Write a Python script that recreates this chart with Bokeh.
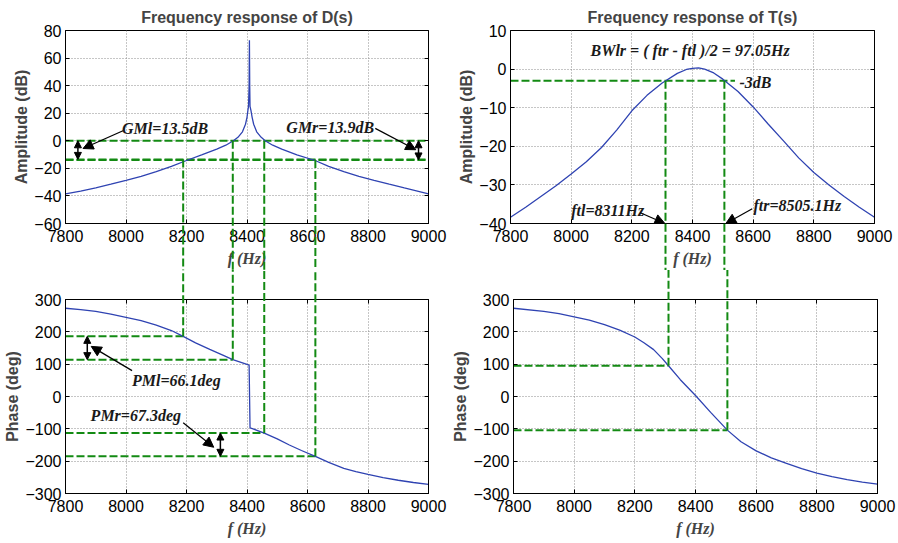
from bokeh.plotting import figure
from bokeh.layouts import column, row
from bokeh.models import Arrow, NormalHead, LinearAxis, FixedTicker, Range1d
from bokeh.core.properties import value
from bokeh.embed import file_html
from bokeh.resources import INLINE

# ---------------- data ----------------
freq_d_amp = [7800, 7850, 7900, 7950, 8000, 8050, 8100, 8150, 8200, 8250, 8300, 8330,
              8355, 8370, 8385, 8395, 8400, 8403, 8405, 8407, 8408, 8409, 8410, 8413,
              8417, 8422, 8432, 8447, 8460, 8485, 8515, 8565, 8625, 8670, 8720, 8770,
              8820, 8870, 8920, 8960, 9000]
d_amp = [-38.5, -36.5, -34.2, -31.5, -28.7, -25.8, -22.3, -18.5, -14.3, -10.2, -6.0, -3.2,
         0.0, 2.5, 6.5, 12.0, 17.0, 22.0, 25.0, 40.0, 73.0, 40.0, 25.0, 22.0,
         17.0, 12.0, 6.5, 2.5, 0.0, -3.2, -6.0, -10.2, -14.3, -18.5, -22.3, -25.8,
         -28.7, -31.5, -34.2, -36.3, -38.5]

freq_d_ph = [7800, 7850, 7900, 7950, 8000, 8050, 8100, 8150, 8189, 8230, 8277, 8320,
             8353, 8395, 8407, 8410, 8420, 8457, 8500, 8540, 8580, 8626, 8670, 8720,
             8760, 8800, 8850, 8900, 8950, 9000]
d_ph = [273, 269, 263, 255, 245, 235, 221, 204, 186, 166, 146, 128,
        114, 101, 97, -97, -100, -113, -131, -150, -167, -185, -204, -222,
        -232, -241, -251, -259, -266, -272]

freq_t_amp = [7800, 7850, 7900, 7950, 8000, 8050, 8100, 8150, 8200, 8250, 8300, 8350,
              8380, 8400, 8420, 8440, 8470, 8500, 8550, 8600, 8650, 8700, 8750, 8800,
              8850, 8900, 8950, 9000]
t_amp = [-38.4, -35.8, -33.0, -30.2, -27.2, -24.0, -20.3, -15.8, -10.8, -6.8, -3.6, -1.1,
         -0.1, 0.2, 0.3, 0.0, -1.0, -2.6, -5.8, -9.8, -14.3, -18.6, -23.0, -26.8,
         -30.0, -33.0, -35.8, -38.4]

freq_t_ph = [7800, 7900, 7950, 8000, 8050, 8100, 8150, 8200, 8230, 8262, 8290, 8311,
             8350, 8400, 8450, 8505, 8550, 8600, 8650, 8700, 8750, 8800, 8850, 8900,
             8950, 9000]
t_ph = [273, 263, 256, 246, 236, 222, 205, 184, 166, 145, 118, 95,
        52, 3, -49, -104, -140, -168, -190, -207, -223, -237, -248, -257,
        -265, -271]

x_ticks = [7800, 8000, 8200, 8400, 8600, 8800, 9000]
d_amp_ticks = [-60, -40, -20, 0, 20, 40, 60, 80]
t_amp_ticks = [-40, -30, -20, -10, 0, 10]
phase_ticks = [-300, -200, -100, 0, 100, 200, 300]

# margin markers (crossing frequencies and their values)
d_cross_freq = [8189, 8353, 8457, 8626]
d_cross_amp = [-13.5, 0.0, 0.0, -13.9]
d_cross_phase = [186, 114, -113, -185]
d_gain_levels = [0.0, -13.5, -13.9]
t_cross_freq = [8311, 8505.1]
t_cross_amp = [-3.0, -3.0]
t_cross_phase = [95, -104]
t_bw_level = -3.0
t_bw_end = 8540

# ---------------- styling ----------------
GREEN = "#138a13"
BLUE = "#2f43b2"
SANS = "Liberation Sans"
SERIF = "Liberation Serif"
DASH = "8 3"


def make_fig(ticks_y, yr, ylabel, title, bl, br, bt, bb, fw, fh):
    p = figure(output_backend="svg", toolbar_location=None,
               x_range=Range1d(7800, 9000), y_range=Range1d(*yr),
               frame_width=fw, frame_height=fh,
               min_border_left=bl, min_border_right=br,
               min_border_top=bt, min_border_bottom=bb,
               background_fill_color="white", border_fill_color="white")
    p.outline_line_color = "black"
    p.outline_line_width = 1
    for ax, tk in ((p.xaxis[0], x_ticks), (p.yaxis[0], ticks_y)):
        ax.ticker = FixedTicker(ticks=tk)
        ax.major_tick_in = 4
        ax.major_tick_out = 0
        ax.minor_tick_line_color = None
        ax.axis_line_color = "black"
        ax.major_tick_line_color = "black"
        ax.major_label_text_font = SANS
        ax.major_label_text_font_size = "16px"
        ax.major_label_text_color = "black"
    p.xaxis.major_label_standoff = 6
    p.yaxis.major_label_standoff = 4
    p.xaxis.axis_label = "f (Hz)"
    p.xaxis.axis_label_text_font = SERIF
    p.xaxis.axis_label_text_font_style = "bold italic"
    p.xaxis.axis_label_text_font_size = "16px"
    p.xaxis.axis_label_standoff = 5
    p.yaxis.axis_label = ylabel
    p.yaxis.axis_label_text_font = SANS
    p.yaxis.axis_label_text_font_style = "bold"
    p.yaxis.axis_label_text_font_size = "16px"
    p.yaxis.axis_label_standoff = 1
    # box ticks on the right (and on top where there is no title)
    sides = [("right", ticks_y)] + ([] if title else [("above", x_ticks)])
    for side, tk in sides:
        a = LinearAxis(ticker=FixedTicker(ticks=tk), major_tick_in=4, major_tick_out=0,
                       minor_tick_line_color=None,
                       major_label_overrides={t: "" for t in tk},
                       major_label_standoff=0, axis_line_color="black")
        p.add_layout(a, side)
    p.grid.grid_line_color = "#8c8c8c"
    p.grid.grid_line_dash = "1 2"
    p.grid.grid_line_width = 1
    p.xgrid.ticker = FixedTicker(ticks=x_ticks)
    p.ygrid.ticker = FixedTicker(ticks=ticks_y)
    if title:
        p.title.text = title
        p.title.align = "center"
        p.title.text_font = SANS
        p.title.text_font_size = "16px"
        p.title.text_font_style = "bold"
        p.title.standoff = 10
    return p


def gline(p, x0, y0, x1, y1):
    p.segment(x0=[x0], y0=[y0], x1=[x1], y1=[y1], line_color=GREEN, line_width=2,
              line_dash=DASH)


def gcross(p, x0, y0, x1, y1):
    # vertical link running out of the frame into the gap between the panels
    p.segment(x0=[x0], y0=[y0], x1=[x1], y1=[y1], line_color=GREEN, line_width=2,
              line_dash=DASH, level="overlay")


def pointer(p, x0, y0, x1, y1):
    p.add_layout(Arrow(end=NormalHead(size=10, fill_color="black", line_color="black"),
                       x_start=x0, y_start=y0, x_end=x1, y_end=y1,
                       line_color="black", line_width=1.2))


def double(p, x, y0, y1):
    p.add_layout(Arrow(start=NormalHead(size=7, fill_color="black", line_color="black"),
                       end=NormalHead(size=7, fill_color="black", line_color="black"),
                       x_start=x, y_start=y0, x_end=x, y_end=y1,
                       line_color="black", line_width=1.5))


def label(p, x, y, txt, align="left"):
    p.text(x=[x], y=[y], text=[txt], text_font=value(SERIF), text_font_style="bold italic",
           text_font_size="16px", text_align=align, text_baseline="middle", text_color="#1a1a1a")


# ---------------- top-left: amplitude of D ----------------
p1 = make_fig(d_amp_ticks, (-60, 80), "Amplitude (dB)", "Frequency response of D(s)",
              65, 21, 30, 47, 363, 193)
for lvl in d_gain_levels:
    gline(p1, 7800, lvl, 9000, lvl)
for f, a in zip(d_cross_freq, d_cross_amp):
    gcross(p1, f, a, f, -600)
p1.line(freq_d_amp, d_amp, line_color=BLUE, line_width=1.3)
label(p1, 7987, 9.0, "GMl=13.5dB")
label(p1, 8530, 9.8, "GMr=13.9dB")
pointer(p1, 7990, 7.3, 7858, -5.6)
pointer(p1, 8824, 9.0, 8958, -6.5)
double(p1, 7841, -13.5, 0.0)
double(p1, 8967, -13.9, 0.0)

# ---------------- top-right: amplitude of T ----------------
p2 = make_fig(t_amp_ticks, (-40, 10), "Amplitude (dB)", "Frequency response of T(s)",
              61, 24, 30, 47, 364, 193)
gline(p2, 7800, t_bw_level, t_bw_end, t_bw_level)
for f, a in zip(t_cross_freq, t_cross_amp):
    gcross(p2, f, a, f, -300)
p2.line(freq_t_amp, t_amp, line_color=BLUE, line_width=1.3)
label(p2, 8392, 4.7, "BWlr = ( ftr - ftl )/2 = 97.05Hz", align="center")
label(p2, 8555, -3.6, "-3dB")
label(p2, 8000, -36.6, "ftl=8311Hz")
label(p2, 8601, -35.3, "ftr=8505.1Hz")
pointer(p2, 8228, -37.2, 8309, -40)
pointer(p2, 8597, -36.2, 8510, -40)

# ---------------- bottom-left: phase of D ----------------
p3 = make_fig(phase_ticks, (-300, 300), "Phase (deg)", None, 65, 21, 29, 50, 363, 194)
for f, ph in zip(d_cross_freq, d_cross_phase):
    gline(p3, 7800, ph, f, ph)
    gcross(p3, f, ph, f, 3000)
p3.line(freq_d_ph, d_ph, line_color=BLUE, line_width=1.3)
label(p3, 8020, 49, "PMl=66.1deg")
label(p3, 7883, -60, "PMr=67.3deg")
pointer(p3, 8020, 80, 7885, 155)
pointer(p3, 8189, -81, 8290, -157)
double(p3, 7872, 114, 186)
double(p3, 8312, -185, -113)

# ---------------- bottom-right: phase of T ----------------
p4 = make_fig(phase_ticks, (-300, 300), "Phase (deg)", None, 61, 24, 29, 50, 364, 194)
for f, ph in zip(t_cross_freq, t_cross_phase):
    gline(p4, 7800, ph, f, ph)
    gcross(p4, f, ph, f, 3000)
p4.line(freq_t_ph, t_ph, line_color=BLUE, line_width=1.3)

layout = column(row(p1, p2), row(p3, p4))
open("out.html", "w").write(file_html(layout, INLINE))
